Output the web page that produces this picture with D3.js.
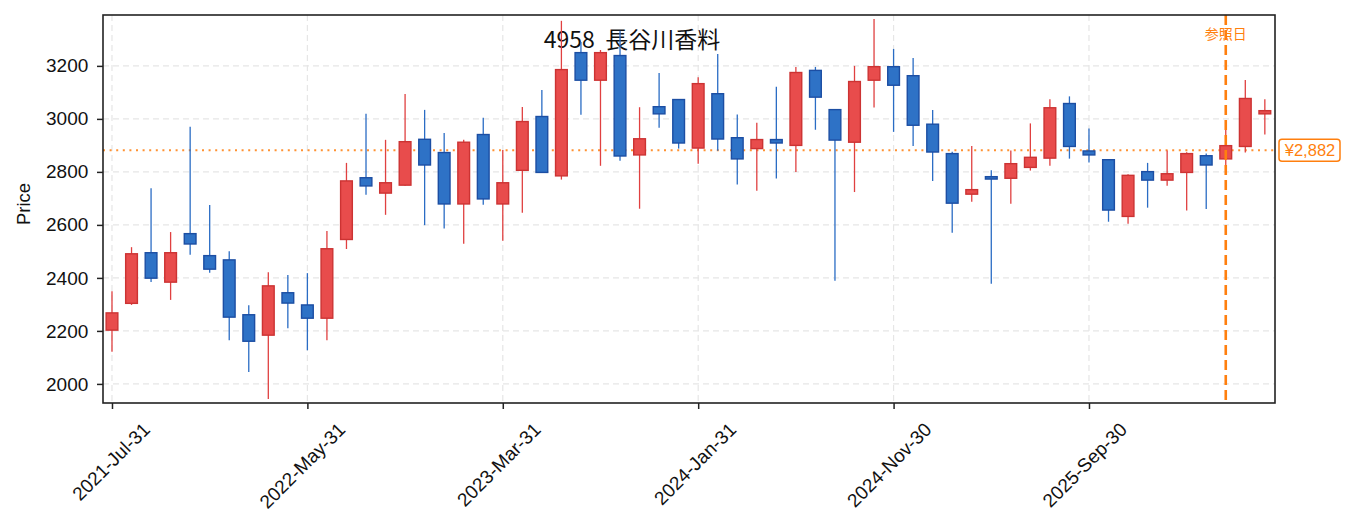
<!DOCTYPE html>
<html>
<head>
<meta charset="utf-8">
<script src="https://cdn.jsdelivr.net/npm/d3@7"></script>
<style>
    body { margin: 0; background: #fff; }
    text { font-family: "Liberation Sans", "Noto Sans CJK JP", sans-serif; }
</style>
</head>
<body>
<svg id="chart" width="1353" height="531"></svg>
<script>

// monthly candles, month-end dates
const dates = [
    "2021-07-31", "2021-08-31", "2021-09-30", "2021-10-31", "2021-11-30", "2021-12-31",
    "2022-01-31", "2022-02-28", "2022-03-31", "2022-04-30", "2022-05-31", "2022-06-30",
    "2022-07-31", "2022-08-31", "2022-09-30", "2022-10-31", "2022-11-30", "2022-12-31",
    "2023-01-31", "2023-02-28", "2023-03-31", "2023-04-30", "2023-05-31", "2023-06-30",
    "2023-07-31", "2023-08-31", "2023-09-30", "2023-10-31", "2023-11-30", "2023-12-31",
    "2024-01-31", "2024-02-29", "2024-03-31", "2024-04-30", "2024-05-31", "2024-06-30",
    "2024-07-31", "2024-08-31", "2024-09-30", "2024-10-31", "2024-11-30", "2024-12-31",
    "2025-01-31", "2025-02-28", "2025-03-31", "2025-04-30", "2025-05-31", "2025-06-30",
    "2025-07-31", "2025-08-31", "2025-09-30", "2025-10-31", "2025-11-30", "2025-12-31",
    "2026-01-31", "2026-02-28", "2026-03-31", "2026-04-30", "2026-05-31", "2026-06-30"
];

const open = [
    2203, 2304, 2495, 2384, 2567, 2484, 2468, 2261, 2184, 2344,
    2298, 2248, 2545, 2778, 2720, 2750, 2923, 2873, 2679, 2941,
    2679, 2806, 3009, 2785, 3250, 3146, 3239, 2864, 3046, 3073,
    2890, 3095, 2929, 2888, 2922, 2900, 3183, 3035, 2912, 3146,
    3197, 3163, 2980, 2869, 2716, 2782, 2776, 2817, 2852, 3058,
    2879, 2846, 2632, 2801, 2769, 2798, 2861, 2849, 2896, 3019
];
const high = [
    2350, 2516, 2738, 2573, 2970, 2675, 2501, 2297, 2421, 2411,
    2418, 2577, 2834, 3019, 2921, 3094, 3034, 2947, 2921, 3004,
    2883, 3045, 3109, 3370, 3290, 3260, 3333, 3044, 3173, 3073,
    3157, 3245, 3017, 2985, 3121, 3196, 3196, 3035, 3200, 3377,
    3264, 3230, 3034, 2876, 2898, 2806, 2881, 2983, 3074, 3085,
    2964, 2846, 2791, 2834, 2881, 2874, 2869, 2980, 3147, 3074
];
const low = [
    2121, 2298, 2385, 2317, 2487, 2419, 2165, 2045, 1943, 2210,
    2127, 2165, 2509, 2714, 2638, 2748, 2599, 2586, 2529, 2676,
    2540, 2646, 2798, 2771, 3016, 2823, 2842, 2661, 2967, 2888,
    2831, 2880, 2752, 2729, 2775, 2800, 2959, 2389, 2724, 3043,
    2951, 2898, 2766, 2570, 2687, 2378, 2680, 2805, 2823, 2850,
    2835, 2612, 2604, 2665, 2748, 2654, 2660, 2819, 2873, 2941
];
const close = [
    2268, 2491, 2399, 2495, 2528, 2433, 2252, 2161, 2370, 2305,
    2248, 2510, 2766, 2747, 2759, 2914, 2826, 2679, 2912, 2698,
    2759, 2990, 2798, 3186, 3146, 3250, 2860, 2925, 3019, 2909,
    3133, 2924, 2849, 2922, 2909, 3175, 3082, 2920, 3141, 3197,
    3127, 2976, 2875, 2682, 2733, 2773, 2831, 2855, 3042, 2896,
    2864, 2656, 2787, 2769, 2793, 2869, 2826, 2899, 3077, 3031
];

const xTickIndex = [0, 10, 20, 30, 40, 50];
const yTicks = [2000, 2200, 2400, 2600, 2800, 3000, 3200];

const refIndex = 57;      // 参照日
const refPrice = 2882;
const title = "4958  長谷川香料";

const upFill = "#e84c4c", upEdge = "#cc3333";
const downFill = "#2e72c6", downEdge = "#1c4ea3";
const orange = "#ff7f0e";

const svg = d3.select("#chart");
const margin = { top: 15, right: 78, bottom: 128, left: 103 };
const width = +svg.attr("width") - margin.left - margin.right;
const height = +svg.attr("height") - margin.top - margin.bottom;
const chartArea = svg.append("g").attr("transform", `translate(${margin.left},${margin.top})`);

const candles = dates.map((d, i) => ({
    i: i, date: d3.timeParse("%Y-%m-%d")(d),
    open: open[i], high: high[i], low: low[i], close: close[i]
}));

const xScale = d3.scaleLinear()
    .domain([-0.46, dates.length - 0.48])
    .range([0, width]);

const yScale = d3.scaleLinear()
    .domain([1928, 3392])
    .range([height, 0]);

// grid
chartArea.append("g")
    .selectAll("line")
    .data(yTicks)
    .enter().append("line")
    .attr("x1", 0).attr("x2", width)
    .attr("y1", d => yScale(d)).attr("y2", d => yScale(d))
    .attr("stroke", "#e6e6e6")
    .attr("stroke-width", 1.2)
    .attr("stroke-dasharray", "6,4");

chartArea.append("g")
    .selectAll("line")
    .data(xTickIndex)
    .enter().append("line")
    .attr("x1", d => xScale(d)).attr("x2", d => xScale(d))
    .attr("y1", 0).attr("y2", height)
    .attr("stroke", "#e6e6e6")
    .attr("stroke-width", 1.2)
    .attr("stroke-dasharray", "6,4");

// title sits inside the plot, behind the candles
chartArea.append("text")
    .attr("x", 632 - margin.left)
    .attr("y", 33)
    .attr("text-anchor", "middle")
    .style("font-family", "'Noto Sans CJK JP', sans-serif")
    .style("font-size", "23px")
    .style("white-space", "pre")
    .attr("fill", "#111")
    .text(title);

// reference price line
chartArea.append("line")
    .attr("x1", 0).attr("x2", width)
    .attr("y1", yScale(refPrice)).attr("y2", yScale(refPrice))
    .attr("stroke", orange)
    .attr("stroke-width", 2)
    .attr("stroke-opacity", 0.85)
    .attr("stroke-dasharray", "2,4.6");

// candles
const bodyW = (xScale(1) - xScale(0)) * 0.6;

chartArea.selectAll(".wick")
    .data(candles)
    .enter().append("line")
    .attr("class", "wick")
    .attr("x1", d => xScale(d.i)).attr("x2", d => xScale(d.i))
    .attr("y1", d => yScale(d.high)).attr("y2", d => yScale(d.low))
    .attr("stroke", d => d.close >= d.open ? "#e04040" : "#2a6cc4")
    .attr("stroke-width", 1.3);

chartArea.selectAll(".body")
    .data(candles)
    .enter().append("rect")
    .attr("class", "body")
    .attr("x", d => xScale(d.i) - bodyW / 2)
    .attr("width", bodyW)
    .attr("y", d => yScale(Math.max(d.open, d.close)))
    .attr("height", d => Math.max(1.5, Math.abs(yScale(d.open) - yScale(d.close))))
    .attr("fill", d => d.close >= d.open ? upFill : downFill)
    .attr("stroke", d => d.close >= d.open ? upEdge : downEdge)
    .attr("stroke-width", 1.4);

// reference date line
chartArea.append("line")
    .attr("x1", xScale(refIndex)).attr("x2", xScale(refIndex))
    .attr("y1", 0).attr("y2", height)
    .attr("stroke", orange)
    .attr("stroke-width", 2.6)
    .attr("stroke-dasharray", "10,5");

chartArea.append("text")
    .attr("x", xScale(refIndex))
    .attr("y", 24)
    .attr("text-anchor", "middle")
    .style("font-family", "'Noto Sans CJK JP', sans-serif")
    .style("font-size", "14px")
    .attr("fill", orange)
    .text("参照日");

// axes
const fmt = d3.timeFormat("%Y-%b-%d");
const xAxis = d3.axisBottom(xScale)
    .tickValues(xTickIndex)
    .tickSize(6)
    .tickFormat(i => fmt(candles[i].date));
const yAxis = d3.axisLeft(yScale)
    .tickValues(yTicks)
    .tickSize(6)
    .tickFormat(d3.format("d"));

const gx = chartArea.append("g")
    .attr("transform", `translate(0,${height})`)
    .call(xAxis);
// rotated labels centred under the tick, like matplotlib's rotation=45
gx.selectAll("text")
    .attr("y", 0)
    .attr("dy", "0.35em")
    .attr("transform", "translate(34,23) rotate(-45)")
    .attr("text-anchor", "end")
    .style("font-size", "19px")
    .attr("fill", "#111");

const gy = chartArea.append("g").call(yAxis);
gy.selectAll("text")
    .attr("dx", "-0.3em")
    .style("font-size", "19px")
    .attr("fill", "#111");

[gx, gy].forEach(g => {
    g.select(".domain").remove();
    g.selectAll(".tick line").attr("stroke", "#222").attr("stroke-width", 1.5);
});

// frame
chartArea.append("rect")
    .attr("width", width).attr("height", height)
    .attr("fill", "none")
    .attr("stroke", "#222")
    .attr("stroke-width", 1.6);

svg.append("text")
    .attr("transform", `translate(30,${margin.top + height / 2 - 5}) rotate(-90)`)
    .attr("text-anchor", "middle")
    .style("font-size", "18.5px")
    .attr("fill", "#111")
    .text("Price");

// price tag on the right
const tagY = margin.top + yScale(refPrice);
const tag = svg.append("g").attr("transform", `translate(${margin.left + width + 4},${tagY})`);
tag.append("rect")
    .attr("x", 0).attr("y", -11)
    .attr("width", 61).attr("height", 22)
    .attr("rx", 3)
    .attr("fill", "#fff")
    .attr("stroke", orange)
    .attr("stroke-width", 1.5);
tag.append("text")
    .attr("x", 31).attr("y", 0)
    .attr("dy", "0.36em")
    .attr("text-anchor", "middle")
    .style("font-size", "16.5px")
    .attr("fill", orange)
    .text("¥" + d3.format(",")(refPrice));

</script>
</body>
</html>
